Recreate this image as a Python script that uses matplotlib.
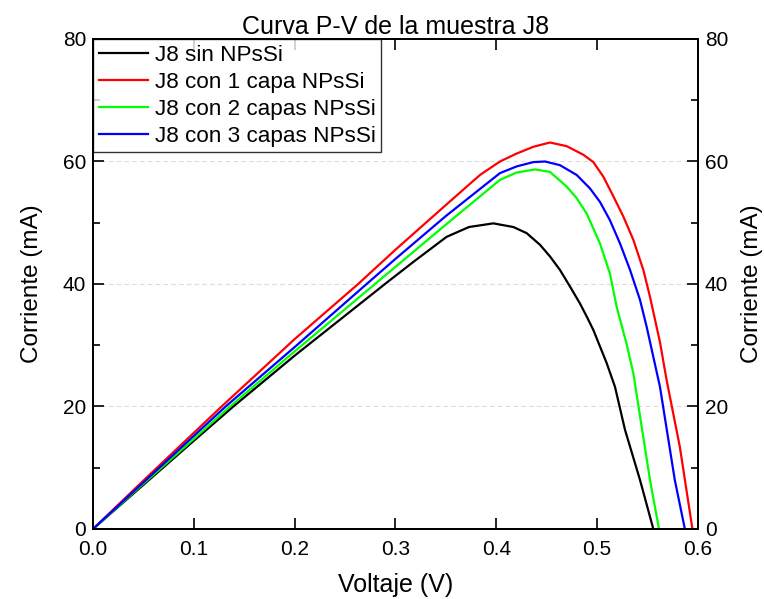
import matplotlib
matplotlib.use("Agg")
import matplotlib.pyplot as plt
from matplotlib.ticker import MultipleLocator

plt.rcParams['font.family'] = ['Liberation Sans', 'DejaVu Sans']

# Power-voltage samples for each sample configuration
v_sin = [0, 0.05, 0.1, 0.1392, 0.2, 0.2896, 0.3177, 0.3507, 0.3729, 0.397, 0.4169, 0.4301,
         0.4433, 0.4532, 0.4631, 0.4730, 0.4830, 0.4896, 0.4962, 0.5028, 0.5094, 0.5177,
         0.5276, 0.5425, 0.5557]
p_sin = [0, 7.2, 14.4, 20.0, 28.3, 40.0, 43.6, 47.7, 49.3, 49.9, 49.3, 48.3,
         46.4, 44.5, 42.3, 39.6, 36.8, 34.7, 32.5, 29.8, 27.1, 23.2,
         16.2, 8.0, 0]

v_1capa = [0, 0.05, 0.1, 0.1276, 0.2, 0.263, 0.3, 0.35, 0.3838, 0.4036, 0.4202, 0.4367,
           0.4532, 0.4698, 0.4863, 0.4962, 0.5062, 0.5161, 0.5260, 0.5359, 0.5458, 0.5524,
           0.5623, 0.5689, 0.582, 0.5945]
p_1capa = [0, 7.9, 15.7, 20.0, 31.0, 40.0, 45.6, 52.9, 57.8, 60.0, 61.3, 62.4,
           63.1, 62.5, 61.1, 59.9, 57.5, 54.3, 51.0, 47.2, 42.3, 37.9,
           30.5, 24.3, 13.4, 0]

v_2capas = [0, 0.05, 0.1, 0.1359, 0.2, 0.2797, 0.3, 0.35, 0.4036, 0.4202, 0.4383, 0.4532,
            0.4698, 0.4797, 0.4896, 0.5028, 0.5127, 0.5193, 0.5292, 0.5359, 0.5524, 0.5613]
p_2capas = [0, 7.4, 14.7, 20.0, 29.0, 40.0, 42.8, 49.7, 57.0, 58.2, 58.7, 58.3,
            55.9, 54.0, 51.5, 46.6, 41.7, 36.3, 30.2, 25.4, 8.0, 0]

v_3capas = [0, 0.05, 0.1, 0.1316, 0.2, 0.2714, 0.3, 0.35, 0.4036, 0.4202, 0.4367, 0.4483,
            0.4631, 0.4797, 0.4929, 0.5028, 0.5127, 0.5227, 0.5326, 0.5425, 0.5491, 0.5557,
            0.5623, 0.577, 0.587]
p_3capas = [0, 7.6, 15.2, 20.0, 29.7, 40.0, 44.1, 51.1, 58.1, 59.2, 59.9, 60.0,
            59.4, 57.8, 55.6, 53.4, 50.4, 46.6, 42.3, 37.4, 33.0, 28.1,
            23.2, 8.0, 0]

labels = ["J8 sin NPsSi", "J8 con 1 capa NPsSi", "J8 con 2 capas NPsSi", "J8 con 3 capas NPsSi"]
colors = ["#000000", "#ff0000", "#00ff00", "#0000ff"]

x_ticks = [0.0, 0.1, 0.2, 0.3, 0.4, 0.5, 0.6]
y_ticks = [0, 20, 40, 60, 80]

fig = plt.figure(figsize=(7.64, 5.99), dpi=100)
ax = fig.add_axes([0.1217, 0.1169, 0.7919, 0.8180])

series = [(v_sin, p_sin), (v_1capa, p_1capa), (v_2capas, p_2capas), (v_3capas, p_3capas)]
for (v, p), lab, col in zip(series, labels, colors):
    ax.plot(v, p, color=col, lw=1.6, label=lab, zorder=3)

ax.set_xlim(0, 0.6)
ax.set_ylim(0, 80)
ax.set_xticks(x_ticks)
ax.set_xticklabels([f"{t:.1f}" for t in x_ticks])
ax.set_yticks(y_ticks)
ax.yaxis.set_minor_locator(MultipleLocator(10))

for g in [20, 40, 60]:
    ax.axhline(g, color="#dcdcdc", lw=0.8, ls=(0, (4, 3)), zorder=1)

for s in ax.spines.values():
    s.set_linewidth(1.4)

ax.tick_params(which="major", direction="in", length=8, width=1.2, labelsize=15,
               top=True, right=False, pad=5)
ax.tick_params(axis="x", which="major", pad=8)
ax.tick_params(which="minor", direction="in", length=5, width=1.2, top=False)
ax.tick_params(axis="x", which="minor", bottom=False, top=False)

ax.set_xlabel("Voltaje (V)", fontsize=18, labelpad=10)
ax.set_ylabel("Corriente (mA)", fontsize=17.5, labelpad=14)
ax.set_title("Curva P-V de la muestra J8", fontsize=18, pad=2)

# Mirrored scale on the right-hand side
ax2 = ax.twinx()
ax2.set_ylim(0, 80)
ax2.set_yticks(y_ticks)
ax2.yaxis.set_minor_locator(MultipleLocator(10))
ax2.tick_params(which="major", direction="in", length=8, width=1.2, labelsize=15, pad=5)
ax2.tick_params(which="minor", direction="in", length=5, width=1.2)
ax2.set_ylabel("Corriente (mA)", fontsize=17.5, labelpad=9)
for s in ax2.spines.values():
    s.set_linewidth(1.4)

leg = ax.legend(loc="upper left", borderaxespad=0, fontsize=16.2, frameon=True,
                fancybox=False, edgecolor="black", handlelength=2.2,
                handletextpad=0.3, labelspacing=0.27, borderpad=0.25)
leg.get_frame().set_linewidth(1.0)
leg.set_zorder(5)

fig.savefig("out.png", dpi=100)
